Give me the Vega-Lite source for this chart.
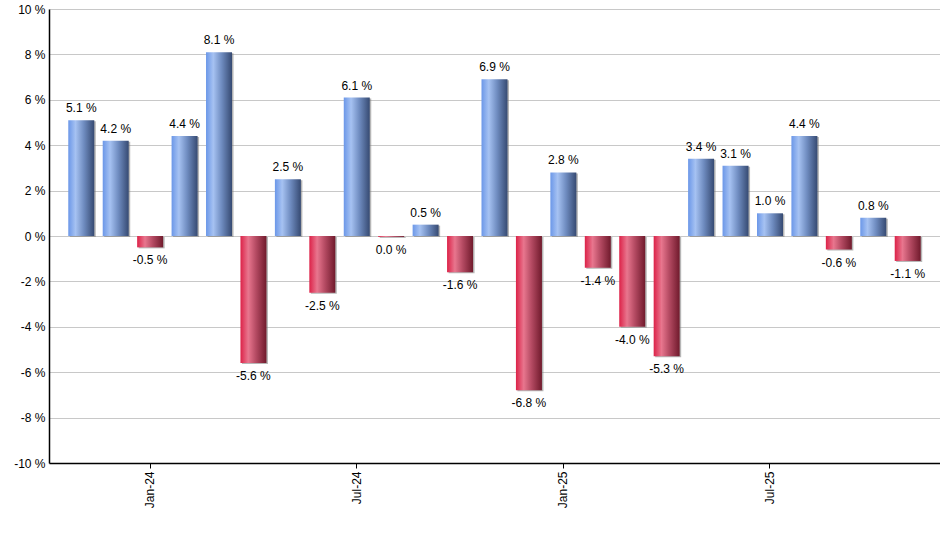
{
  "$schema": "https://vega.github.io/schema/vega-lite/v6.json",
  "autosize": "none",
  "width": 891,
  "height": 454,
  "padding": {"left": 49, "top": 9, "right": 0, "bottom": 87},
  "background": "white",
  "data": {
    "values": [
      {"month": "Nov-23", "value": 5.1},
      {"month": "Dec-23", "value": 4.2},
      {"month": "Jan-24", "value": -0.5},
      {"month": "Feb-24", "value": 4.4},
      {"month": "Mar-24", "value": 8.1},
      {"month": "Apr-24", "value": -5.6},
      {"month": "May-24", "value": 2.5},
      {"month": "Jun-24", "value": -2.5},
      {"month": "Jul-24", "value": 6.1},
      {"month": "Aug-24", "value": -0.04},
      {"month": "Sep-24", "value": 0.5},
      {"month": "Oct-24", "value": -1.6},
      {"month": "Nov-24", "value": 6.9},
      {"month": "Dec-24", "value": -6.8},
      {"month": "Jan-25", "value": 2.8},
      {"month": "Feb-25", "value": -1.4},
      {"month": "Mar-25", "value": -4.0},
      {"month": "Apr-25", "value": -5.3},
      {"month": "May-25", "value": 3.4},
      {"month": "Jun-25", "value": 3.1},
      {"month": "Jul-25", "value": 1.0},
      {"month": "Aug-25", "value": 4.4},
      {"month": "Sep-25", "value": -0.6},
      {"month": "Oct-25", "value": 0.8},
      {"month": "Nov-25", "value": -1.1}
    ]
  },
  "transform": [
    {"calculate": "(abs(datum.value) < 0.05 ? '0.0' : replace(format(datum.value, '.1f'), '\u2212', '-')) + ' %'", "as": "label"}
  ],
  "encoding": {
    "x": {
      "field": "month",
      "type": "nominal",
      "title": null,
      "scale": {
        "domain": ["Nov-23", "Dec-23", "Jan-24", "Feb-24", "Mar-24", "Apr-24", "May-24", "Jun-24", "Jul-24", "Aug-24", "Sep-24", "Oct-24", "Nov-24", "Dec-24", "Jan-25", "Feb-25", "Mar-25", "Apr-25", "May-25", "Jun-25", "Jul-25", "Aug-25", "Sep-25", "Oct-25", "Nov-25"],
        "paddingInner": 0.245,
        "paddingOuter": 0.56
      },
      "axis": {
        "values": ["Jan-24", "Jul-24", "Jan-25", "Jul-25"],
        "labelAngle": 270,
        "tickSize": 5,
        "tickColor": "black",
        "domainColor": "black",
        "domainWidth": 1.5,
        "labelColor": "black",
        "labelFont": "Liberation Sans",
        "labelFontSize": 12,
        "labelPadding": 3,
        "grid": false
      }
    },
    "y": {
      "field": "value",
      "type": "quantitative",
      "title": null,
      "scale": {"domain": [-10, 10], "nice": false},
      "axis": {
        "values": [-10, -8, -6, -4, -2, 0, 2, 4, 6, 8, 10],
        "labelExpr": "datum.value + ' %'",
        "ticks": false,
        "domainColor": "black",
        "domainWidth": 1.5,
        "gridColor": "#c8c8c8",
        "labelColor": "black",
        "labelFont": "Liberation Sans",
        "labelFontSize": 12,
        "labelPadding": 4
      }
    }
  },
  "layer": [
    {
      "mark": {"type": "bar", "color": "#7a7a7a", "opacity": 0.55, "xOffset": 1.5, "yOffset": 1}
    },
    {
      "transform": [{"filter": "datum.value > 0"}],
      "mark": {
        "type": "bar",
        "color": {
          "gradient": "linear",
          "x1": 0, "y1": 0, "x2": 1, "y2": 0,
          "stops": [
            {"offset": 0, "color": "#6b97e8"},
            {"offset": 0.28, "color": "#a6c2f2"},
            {"offset": 0.6, "color": "#6f8cc0"},
            {"offset": 1, "color": "#364a72"}
          ]
        }
      }
    },
    {
      "transform": [{"filter": "datum.value <= 0"}],
      "mark": {
        "type": "bar",
        "color": {
          "gradient": "linear",
          "x1": 0, "y1": 0, "x2": 1, "y2": 0,
          "stops": [
            {"offset": 0, "color": "#dc2248"},
            {"offset": 0.3, "color": "#e8768e"},
            {"offset": 0.6, "color": "#b44a62"},
            {"offset": 1, "color": "#701a2c"}
          ]
        }
      }
    },
    {
      "transform": [{"filter": "datum.value > 0"}],
      "mark": {"type": "text", "baseline": "bottom", "dy": -5, "font": "Liberation Sans", "fontSize": 12, "color": "black"},
      "encoding": {"text": {"field": "label"}}
    },
    {
      "transform": [{"filter": "datum.value <= 0"}],
      "mark": {"type": "text", "baseline": "top", "dy": 8, "font": "Liberation Sans", "fontSize": 12, "color": "black"},
      "encoding": {"text": {"field": "label"}}
    }
  ],
  "config": {"view": {"stroke": null}}
}
